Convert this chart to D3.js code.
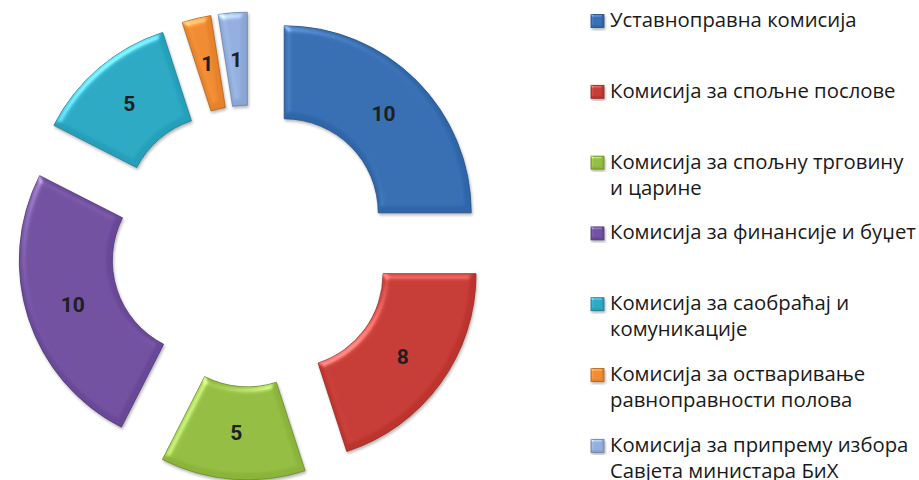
<!DOCTYPE html>
<html>
<head>
<meta charset="utf-8">
<script src="https://cdn.jsdelivr.net/npm/d3@7"></script>
<style>
  body { margin: 0; background: #fff; }
  svg { display: block; }
</style>
</head>
<body>
<div id="chart"></div>
<script>
// commissions (legend order = slice order, clockwise from 12 o'clock)
const categories = [
    "Уставноправна комисија",
    "Комисија за спољне послове",
    "Комисија за спољну трговину\nи царине",
    "Комисија за финансије и буџет",
    "Комисија за саобраћај и\nкомуникације",
    "Комисија за остваривање\nравноправности полова",
    "Комисија за припрему избора\nСавјета министара БиХ"
];
const values = [10, 8, 5, 10, 5, 1, 1];
const colors = ["#2f66aa", "#bd342e", "#8ab43a", "#684897", "#25a0ba", "#e6822a", "#8aa6d4"];

const W = 919, H = 480;
const cx = 251, cy = 246;
const outerR = 187, innerR = 94, explode = 47;

const svg = d3.select("#chart").append("svg")
    .attr("width", W)
    .attr("height", H);

const defs = svg.append("defs");

// soft bevel + shadow, roughly what the office chart had
function bevel(id, blur, scale) {
    const f = defs.append("filter").attr("id", id)
        .attr("color-interpolation-filters", "sRGB")
        .attr("x", "-10%").attr("y", "-10%").attr("width", "130%").attr("height", "130%");
    f.append("feGaussianBlur").attr("in", "SourceAlpha").attr("stdDeviation", blur).attr("result", "blur");
    f.append("feSpecularLighting").attr("in", "blur").attr("surfaceScale", scale)
        .attr("specularConstant", 0.9).attr("specularExponent", 14)
        .attr("lighting-color", "#ffffff").attr("result", "spec")
        .append("feDistantLight").attr("azimuth", 235).attr("elevation", 28);
    f.append("feComposite").attr("in", "spec").attr("in2", "SourceAlpha").attr("operator", "in").attr("result", "specIn");
    f.append("feComposite").attr("in", "SourceGraphic").attr("in2", "specIn")
        .attr("operator", "arithmetic").attr("k1", 0).attr("k2", 1).attr("k3", 0.4).attr("k4", 0).attr("result", "lit");
    f.append("feGaussianBlur").attr("in", "SourceAlpha").attr("stdDeviation", 1.5).attr("result", "sb");
    f.append("feOffset").attr("in", "sb").attr("dx", 1).attr("dy", 2).attr("result", "so");
    f.append("feComponentTransfer").attr("in", "so").attr("result", "sh")
        .append("feFuncA").attr("type", "linear").attr("slope", 0.3);
    const fm = f.append("feMerge");
    fm.append("feMergeNode").attr("in", "sh");
    fm.append("feMergeNode").attr("in", "lit");
}
bevel("bevel", 3, 4);
bevel("bevelSmall", 1, 2);

const pie = d3.pie().sort(null).value(d => d);
const arc = d3.arc().innerRadius(innerR).outerRadius(outerR);
const arcs = pie(values);

const g = svg.append("g").attr("transform", `translate(${cx},${cy})`);

const slice = g.selectAll(".slice")
    .data(arcs)
    .enter()
    .append("g")
    .attr("class", "slice")
    .attr("transform", d => {
        const a = (d.startAngle + d.endAngle) / 2;
        return `translate(${explode * Math.sin(a)},${-explode * Math.cos(a)})`;
    });

slice.append("path")
    .attr("d", arc)
    .attr("fill", (d, i) => colors[i])
    .attr("stroke", (d, i) => d3.color(colors[i]).darker(0.7))
    .attr("stroke-width", 0.8)
    .attr("filter", "url(#bevel)");

slice.append("text")
    .attr("transform", d => `translate(${arc.centroid(d)})`)
    .attr("text-anchor", "middle")
    .attr("dy", "0.36em")
    .style("font-family", "Roboto, 'DejaVu Sans', sans-serif")
    .style("font-weight", "bold")
    .style("font-size", "21px")
    .attr("fill", "#1f1f1f")
    .text(d => d.value);

// legend
const legendX = 591, legendY0 = 21, legendStep = 70.8, lineH = 26;
const legendFont = "'Open Sans', 'Noto Sans', sans-serif";

const legend = svg.append("g").attr("class", "legend");

const items = legend.selectAll(".item")
    .data(categories)
    .enter()
    .append("g")
    .attr("class", "item")
    .attr("transform", (d, i) => `translate(${legendX},${legendY0 + i * legendStep})`);

items.append("rect")
    .attr("x", 0).attr("y", -6.5)
    .attr("width", 13).attr("height", 13)
    .attr("fill", (d, i) => colors[i])
    .attr("stroke", (d, i) => d3.color(colors[i]).darker(0.8))
    .attr("stroke-width", 0.8)
    .attr("filter", "url(#bevelSmall)");

const texts = items.append("text")
    .attr("x", 19)
    .attr("y", 6)
    .style("font-family", legendFont)
    .style("font-size", "18px")
    .attr("fill", "#1a1a1a");

texts.selectAll("tspan")
    .data(d => d.split("\n"))
    .enter()
    .append("tspan")
    .attr("x", 19)
    .attr("dy", (d, i) => i === 0 ? 0 : lineH)
    .text(d => d);

// fit the longest line to the width the original legend used (~306px)
let maxW = 0;
texts.selectAll("tspan").each(function () {
    maxW = Math.max(maxW, this.getComputedTextLength());
});
const fs = 18 * 306 / maxW;
texts.style("font-size", fs + "px");
</script>
</body>
</html>
